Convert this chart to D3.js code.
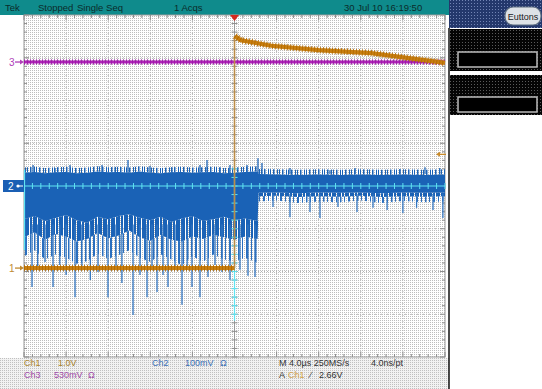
<!DOCTYPE html>
<html>
<head>
<meta charset="utf-8">
<script src="https://cdn.jsdelivr.net/npm/d3@7/dist/d3.min.js"></script>
<style>
  body { margin: 0; background: #fff; }
  svg { display: block; font-family: "Liberation Sans", Arial, sans-serif; }
</style>
</head>
<body>
<div id="scope"></div>
<script>
// ---- scope settings ----
var channelNames = ["Ch1", "Ch2", "Ch3"];
var voltsPerDiv = [1.0, 0.1, 0.53];
var positionDiv = [-1.92, 0, 2.9];
var channelColors = ["#c97f10", "#1a62b6", "#b024b8"];

// time axis: 4.0us/div, trigger in the middle
var timeDivs = [-20, -16, -12, -8, -4, 0, 4, 8, 12, 16, 20];
var vertDivs = [-4, -3, -2, -1, 0, 1, 2, 3, 4];
var triggerLevel = 2.66; // volts on Ch1

// Ch1 (volts) - low before trigger, step up then slow decay
var ch1PreTime = [-20, 0];
var ch1PreVolts = [0, 0];
var ch1PostTime = [0.05, 0.6, 3.5, 8, 13, 20];
var ch1PostVolts = [5.43, 5.33, 5.2, 5.1, 5.03, 4.8];

// Ch3 (volts) - flat
var ch3Time = [-20, 20];
var ch3Volts = [0, 0];

// Ch2 (mV) - noise envelope
var ch2EnvTime = [-20, -19, -18, -17, -16, -15, -14, -13, -12, -11, -10, -9, -8, -7, -6, -5, -4, -3, -2, -1, 0, 1, 2.2,
  2.3, 4, 6, 8, 10, 12, 14, 16, 18, 20];
var ch2Top = [31, 33, 30, 32, 33, 30, 31, 34, 32, 33, 31, 34, 31, 30, 32, 33, 31, 32, 33, 30, 31, 33, 34,
  28, 27, 26, 27, 26, 27, 26, 27, 26, 27];
var ch2CoreLow = [-78, -70, -82, -75, -68, -80, -86, -72, -78, -70, -66, -74, -80, -72, -84, -76, -70, -82, -78, -72, -80, -76, -82,
  -16, -15, -17, -15, -16, -15, -17, -15, -16, -15];
var ch2FringeMid = [-120, -108, -126, -112, -118, -130, -124, -110, -122, -116, -104, -120, -128, -114, -126, -130, -118, -124, -114, -120, -126, -118, -124,
  -24, -23, -26, -24, -25, -23, -26, -24, -25, -24];
var ch2FringeLow = [-165, -150, -172, -160, -168, -182, -176, -158, -170, -162, -150, -168, -178, -160, -172, -186, -164, -178, -160, -172, -176, -168, -180,
  -36, -34, -40, -36, -38, -34, -40, -35, -38, -36];

// Ch2 spikes (time us, mV)
var ch2DownTime = [-19.24, -18.7, -18.0, -17.24, -16.6, -16.0, -15.15, -14.5, -13.7, -12.97, -12.02, -11.26, -10.7, -9.64, -8.98, -8.31, -7.84, -7.36, -6.79, -6.32, -5.65, -4.99, -4.5, -4.04, -3.28, -2.52, -1.85, -1.19, -0.43, 0.52, 1.28, 1.95,
  3.66, 5.27, 7.17, 8.12, 9.83, 11.64, 13.16, 14.5, 16.0, 17.3, 18.86, 19.8];
var ch2DownMv = [-236, -196, -178, -236, -185, -208, -260, -192, -220, -201, -260, -196, -227, -302, -208, -260, -192, -248, -208, -236, -196, -278, -192, -236, -260, -213, -185, -201, -220, -196, -210, -213,
  -49, -73, -61, -75, -49, -61, -51, -56, -63, -51, -56, -75];
var ch2UpTime = [-19.14, -17.05, -15.63, -12.59, -11.35, -10.12, -8.03, -5.94, -3.28, -2.61, -1.38, -0.43, 1.19, 2.23, 2.61, 5.27, 9.07, 11.45, 15.72, 18.1, 19.5];
var ch2UpMv = [49, 42, 49, 49, 44, 61, 47, 44, 49, 61, 44, 49, 49, 65, 54, 42, 37, 42, 40, 44, 42];

// ---- layout ----
var W = 542, H = 389;
var plot = { left: 24, right: 445, top: 15, bottom: 357 };
var x = d3.scaleLinear().domain([-20, 20]).range([plot.left, plot.right]);
var y = d3.scaleLinear().domain([-4, 4]).range([plot.bottom, plot.top]);

function chY(ch, v) {
  return y(v / voltsPerDiv[ch] + positionDiv[ch]);
}
// Ch2 data is kept in mV
function mvY(mv) {
  return chY(1, mv / 1000);
}
function zip(ts, vs) {
  return ts.map(function(t, i) { return { t: t, v: vs[i] }; });
}

var svg = d3.select("#scope").append("svg")
  .attr("width", W)
  .attr("height", H);

var defs = svg.append("defs");
function dotPattern(id, bg, dot, size) {
  var p = defs.append("pattern").attr("id", id)
    .attr("width", size).attr("height", size)
    .attr("patternUnits", "userSpaceOnUse");
  p.append("rect").attr("width", size).attr("height", size).attr("fill", bg);
  p.append("rect").attr("width", 1).attr("height", 1).attr("fill", dot);
  return p;
}
dotPattern("gratDots", "#ffffff", "#bdbdbd", 2);
dotPattern("infoDots", "#f2f2f2", "#c0c0c0", 2);
dotPattern("navyDots", "#24386c", "#7284b4", 3);
dotPattern("blackDots", "#050505", "#5a5a5a", 3);

// vertical streak textures for the ragged parts of the Ch2 band
function streakPattern(id, width, streaks, color) {
  var p = defs.append("pattern").attr("id", id)
    .attr("width", width).attr("height", 4)
    .attr("patternUnits", "userSpaceOnUse");
  streaks.forEach(function(s) {
    p.append("rect").attr("x", s[0]).attr("width", s[1]).attr("height", 4).attr("fill", color);
  });
}
streakPattern("streakDense", 13, [[0, 3], [4, 2], [7, 4], [12, 1]], "#1a62b6");
streakPattern("streakSparse", 17, [[0, 1.5], [4, 1], [8, 2], [13, 1]], "#2a6fbf");
streakPattern("streakHair", 9, [[0, 1], [3, 1.5], [7, 1]], "#1a62b6");

// ---- background panels ----
svg.append("rect").attr("width", W).attr("height", H).attr("fill", "#fff");
svg.append("rect")
  .attr("x", plot.left).attr("y", plot.top)
  .attr("width", plot.right - plot.left).attr("height", plot.bottom - plot.top)
  .attr("fill", "url(#gratDots)");
svg.append("rect")
  .attr("x", 0).attr("y", plot.bottom + 1)
  .attr("width", 449).attr("height", H - plot.bottom - 1)
  .attr("fill", "url(#infoDots)");

// header bar
svg.append("rect").attr("x", 0).attr("y", 0).attr("width", 449).attr("height", 15).attr("fill", "#0f8b8c");
var header = svg.append("g").attr("font-size", 9.5).attr("fill", "#0b2b2b");
header.append("text").attr("x", 5).attr("y", 11).text("Tek");
header.append("text").attr("x", 38).attr("y", 11).text("Stopped");
header.append("text").attr("x", 77).attr("y", 11).text("Single Seq");
header.append("text").attr("x", 174).attr("y", 11).text("1 Acqs");
header.append("text").attr("x", 344).attr("y", 11).text("30 Jul 10 16:19:50");

// right side panel
svg.append("rect").attr("x", 449).attr("y", 0).attr("width", W - 449).attr("height", 28).attr("fill", "url(#navyDots)");
svg.append("rect").attr("x", 505).attr("y", 7).attr("width", 36).attr("height", 18).attr("rx", 8)
  .attr("fill", "#dde2e6").attr("stroke", "#5d6c80").attr("stroke-width", 1.2);
svg.append("text").attr("x", 523).attr("y", 19.5).attr("text-anchor", "middle")
  .attr("font-size", 9).attr("fill", "#1a1a1a").text("Euttons");
[[29, 42, 52], [75, 40, 97]].forEach(function(b) {
  svg.append("rect").attr("x", 450).attr("y", b[0]).attr("width", W - 450).attr("height", b[1]).attr("fill", "url(#blackDots)");
  svg.append("rect").attr("x", 458).attr("y", b[2]).attr("width", 79).attr("height", 15)
    .attr("fill", "#000").attr("stroke", "#bdbdbd").attr("stroke-width", 1.5);
});
svg.append("line").attr("x1", 449).attr("x2", 449).attr("y1", 28).attr("y2", H)
  .attr("stroke", "#111").attr("stroke-width", 1.5);

// ---- graticule ----
var grid = svg.append("g");
grid.selectAll(".vgrid").data(timeDivs.slice(1, -1)).join("line")
  .attr("x1", function(d) { return x(d); }).attr("x2", function(d) { return x(d); })
  .attr("y1", plot.top).attr("y2", plot.bottom)
  .attr("stroke", "#b4b4b4").attr("stroke-dasharray", "1,2");
grid.selectAll(".hgrid").data(vertDivs.slice(1, -1)).join("line")
  .attr("y1", function(d) { return y(d); }).attr("y2", function(d) { return y(d); })
  .attr("x1", plot.left).attr("x2", plot.right)
  .attr("stroke", "#b4b4b4").attr("stroke-dasharray", "1,2");

grid.append("rect")
  .attr("x", plot.left).attr("y", plot.top)
  .attr("width", plot.right - plot.left).attr("height", plot.bottom - plot.top)
  .attr("fill", "none").attr("stroke", "#9a9a9a");

var minorX = d3.range(-20, 20.001, 0.8);
var minorY = d3.range(-4, 4.001, 0.2);
function tickLen(d, step) { return Math.abs(d / step - Math.round(d / step)) < 1e-6 ? 5 : 3; }

grid.selectAll(".tt").data(minorX).join("line")
  .attr("x1", function(d) { return x(d); }).attr("x2", function(d) { return x(d); })
  .attr("y1", plot.top).attr("y2", function(d) { return plot.top + tickLen(d, 4); })
  .attr("stroke", "#8c8c8c");
grid.selectAll(".bt").data(minorX).join("line")
  .attr("x1", function(d) { return x(d); }).attr("x2", function(d) { return x(d); })
  .attr("y1", plot.bottom).attr("y2", function(d) { return plot.bottom - tickLen(d, 4); })
  .attr("stroke", "#8c8c8c");
grid.selectAll(".lt").data(minorY).join("line")
  .attr("y1", function(d) { return y(d); }).attr("y2", function(d) { return y(d); })
  .attr("x1", plot.left).attr("x2", function(d) { return plot.left + tickLen(d, 1); })
  .attr("stroke", "#8c8c8c");
grid.selectAll(".rt").data(minorY).join("line")
  .attr("y1", function(d) { return y(d); }).attr("y2", function(d) { return y(d); })
  .attr("x1", plot.right).attr("x2", function(d) { return plot.right - tickLen(d, 1); })
  .attr("stroke", "#8c8c8c");

// center crosshair
grid.append("line").attr("x1", x(0)).attr("x2", x(0)).attr("y1", plot.top).attr("y2", plot.bottom).attr("stroke", "#9a9a9a");
grid.append("line").attr("y1", y(0)).attr("y2", y(0)).attr("x1", plot.left).attr("x2", plot.right).attr("stroke", "#9a9a9a");
grid.selectAll(".cvt").data(minorY).join("line")
  .attr("y1", function(d) { return y(d); }).attr("y2", function(d) { return y(d); })
  .attr("x1", x(0) - 3).attr("x2", x(0) + 3).attr("stroke", "#8c8c8c");
grid.selectAll(".cht").data(minorX).join("line")
  .attr("x1", function(d) { return x(d); }).attr("x2", function(d) { return x(d); })
  .attr("y1", y(0) - 3).attr("y2", y(0) + 3).attr("stroke", "#8c8c8c");

// ---- traces ----
var traces = svg.append("g");

// Ch2 noise band: solid core, streaky fringes below and a hairy top
function bandArea(topArr, lowArr) {
  return d3.area()
    .x(function(d) { return x(d.t); })
    .y0(function(d, i) { return mvY(lowArr[i]); })
    .y1(function(d, i) { return mvY(topArr[i]); });
}
var hairTop = ch2Top.map(function(v) { return v + 12; });
traces.append("path").datum(ch2EnvTime)
  .attr("d", bandArea(ch2FringeMid, ch2FringeLow).x(function(d) { return x(d); }))
  .attr("fill", "url(#streakSparse)");
traces.append("path").datum(ch2EnvTime)
  .attr("d", bandArea(ch2CoreLow, ch2FringeMid).x(function(d) { return x(d); }))
  .attr("fill", "url(#streakDense)");
traces.append("path").datum(ch2EnvTime)
  .attr("d", bandArea(hairTop, ch2Top).x(function(d) { return x(d); }))
  .attr("fill", "url(#streakHair)");
traces.append("path").datum(ch2EnvTime)
  .attr("d", bandArea(ch2Top, ch2CoreLow).x(function(d) { return x(d); }))
  .attr("fill", channelColors[1]);

traces.selectAll(".dspike").data(zip(ch2DownTime, ch2DownMv)).join("line")
  .attr("x1", function(d) { return x(d.t); }).attr("x2", function(d) { return x(d.t); })
  .attr("y1", function(d) { return mvY(d.t < 2.25 ? -90 : -18); })
  .attr("y2", function(d) { return mvY(d.v); })
  .attr("stroke", "#3074c0").attr("stroke-width", 1.3);
traces.selectAll(".uspike").data(zip(ch2UpTime, ch2UpMv)).join("line")
  .attr("x1", function(d) { return x(d.t); }).attr("x2", function(d) { return x(d.t); })
  .attr("y1", mvY(28))
  .attr("y2", function(d) { return mvY(d.v); })
  .attr("stroke", "#1f66b8").attr("stroke-width", 1.3);

// cyan crosshair where it crosses Ch2
var cyan = "#5fe3f2";
traces.append("line").attr("y1", y(0)).attr("y2", y(0)).attr("x1", plot.left).attr("x2", plot.right)
  .attr("stroke", cyan).attr("stroke-width", 1.2);
traces.selectAll(".cyx").data(minorX).join("line")
  .attr("x1", function(d) { return x(d); }).attr("x2", function(d) { return x(d); })
  .attr("y1", y(0) - 3).attr("y2", y(0) + 3).attr("stroke", cyan);
var cyanY = minorY.filter(function(d) { return d > -3.1 && d < 0.5; });
traces.append("line").attr("x1", x(0)).attr("x2", x(0)).attr("y1", mvY(50)).attr("y2", mvY(-315))
  .attr("stroke", cyan).attr("stroke-width", 1.2);
traces.selectAll(".cyy").data(cyanY).join("line")
  .attr("y1", function(d) { return y(d); }).attr("y2", function(d) { return y(d); })
  .attr("x1", x(0) - 3).attr("x2", x(0) + 3).attr("stroke", cyan);
traces.append("line").attr("x1", plot.left + 0.5).attr("x2", plot.left + 0.5).attr("y1", mvY(38)).attr("y2", mvY(-150))
  .attr("stroke", cyan).attr("stroke-width", 1.2);

// thick noisy line helper
function noisyTrace(ch, data, color, dark, w) {
  var line = d3.line().x(function(d) { return x(d.t); }).y(function(d) { return chY(ch, d.v); });
  traces.append("path").datum(data).attr("d", line)
    .attr("fill", "none").attr("stroke", color).attr("stroke-width", w);
  traces.append("path").datum(data).attr("d", line)
    .attr("fill", "none").attr("stroke", dark).attr("stroke-width", w + 2.5)
    .attr("stroke-dasharray", "1,2").attr("stroke-opacity", 0.85);
}

// Ch3
noisyTrace(2, zip(ch3Time, ch3Volts), channelColors[2], "#9a1aa6", 3);

// Ch1
noisyTrace(0, zip(ch1PreTime, ch1PreVolts), channelColors[0], "#b06800", 4);
traces.append("line").attr("x1", x(0)).attr("x2", x(0))
  .attr("y1", chY(0, ch1PreVolts[1])).attr("y2", chY(0, ch1PostVolts[0]))
  .attr("stroke", "#bb8c48").attr("stroke-width", 1.6);
noisyTrace(0, zip(ch1PostTime, ch1PostVolts), channelColors[0], "#b06800", 4.2);

// ---- markers ----
var marks = svg.append("g").attr("font-size", 10);
function groundArrow(yy, color) {
  marks.append("line").attr("x1", 15).attr("x2", 21).attr("y1", yy).attr("y2", yy)
    .attr("stroke", color).attr("stroke-width", 1.3);
  marks.append("path").attr("d", "M20," + (yy - 2.5) + "L24," + yy + "L20," + (yy + 2.5) + "Z").attr("fill", color);
}
marks.append("text").attr("x", 9).attr("y", chY(2, 0) + 3.5).attr("fill", "#b040b8").text("3");
groundArrow(chY(2, 0), "#b040b8");
marks.append("text").attr("x", 9).attr("y", chY(0, 0) + 3.5).attr("fill", "#c08a30").text("1");
groundArrow(chY(0, 0), "#c08a30");
marks.append("rect").attr("x", 3).attr("y", y(0) - 6).attr("width", 21).attr("height", 12).attr("fill", "#1a5fb4");
marks.append("text").attr("x", 8).attr("y", y(0) + 3.5).attr("fill", "#fff").text("2");
marks.append("circle").attr("cx", 18).attr("cy", y(0)).attr("r", 1.6).attr("fill", "#fff");
marks.append("line").attr("x1", 18).attr("x2", 23).attr("y1", y(0)).attr("y2", y(0)).attr("stroke", "#fff");

// trigger position / level
marks.append("path")
  .attr("d", "M" + (x(0) - 4.5) + "," + plot.top + "L" + (x(0) + 4.5) + "," + plot.top + "L" + x(0) + "," + (plot.top + 6) + "Z")
  .attr("fill", "#d42a1e");
var trigY = chY(0, triggerLevel);
marks.append("line").attr("x1", 439).attr("x2", 446).attr("y1", trigY).attr("y2", trigY)
  .attr("stroke", "#c98a2a").attr("stroke-width", 1.3);
marks.append("path").attr("d", "M440," + (trigY - 2.5) + "L436," + trigY + "L440," + (trigY + 2.5) + "Z").attr("fill", "#c98a2a");

// ---- readouts ----
var info = svg.append("g").attr("font-size", 9);
var row1 = 366, row2 = 378;
info.append("text").attr("x", 24).attr("y", row1).attr("fill", "#b0882e").text(channelNames[0]);
info.append("text").attr("x", 58).attr("y", row1).attr("fill", "#a8822e").text(voltsPerDiv[0].toFixed(1) + "V");
info.append("text").attr("x", 24).attr("y", row2).attr("fill", "#a24aa8").text(channelNames[2]);
info.append("text").attr("x", 54).attr("y", row2).attr("fill", "#a24aa8").text(Math.round(voltsPerDiv[2] * 1000) + "mV");
info.append("text").attr("x", 88).attr("y", row2).attr("fill", "#a24aa8").text("Ω");
info.append("text").attr("x", 152).attr("y", row1).attr("fill", "#3a6fb6").text(channelNames[1]);
info.append("text").attr("x", 185).attr("y", row1).attr("fill", "#3a6fb6").text(Math.round(voltsPerDiv[1] * 1000) + "mV");
info.append("text").attr("x", 220).attr("y", row1).attr("fill", "#3a6fb6").text("Ω");
info.append("text").attr("x", 279).attr("y", row1).attr("fill", "#333").text("M 4.0µs 250MS/s");
info.append("text").attr("x", 371).attr("y", row1).attr("fill", "#333").text("4.0ns/pt");
info.append("text").attr("x", 279).attr("y", row2).attr("fill", "#333").text("A");
info.append("text").attr("x", 288).attr("y", row2).attr("fill", "#d4a44a").text(channelNames[0]);
info.append("text").attr("x", 310).attr("y", row2).attr("fill", "#333").text("∕");
info.append("text").attr("x", 319).attr("y", row2).attr("fill", "#333").text(triggerLevel.toFixed(2) + "V");
</script>
</body>
</html>
